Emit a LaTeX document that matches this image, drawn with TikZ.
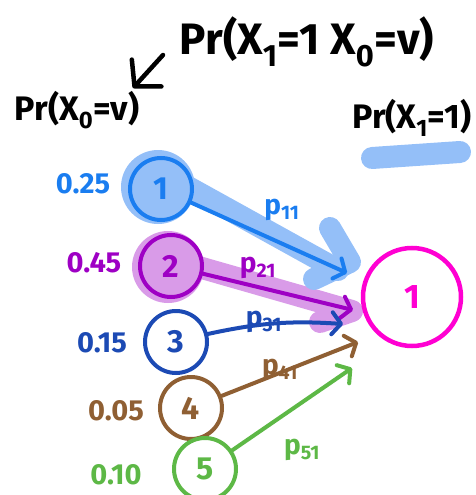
\documentclass[tikz,border=0pt]{standalone}
\usepackage{fontspec}
\setmainfont{Fira Sans}
\usetikzlibrary{arrows.meta}
\definecolor{hblue}{HTML}{1A7DF0}
\definecolor{hblueL}{HTML}{94BFF8}
\definecolor{hpurple}{HTML}{9E00C4}
\definecolor{hpurpleL}{HTML}{D99BE8}
\definecolor{hnavy}{HTML}{1C4AB4}
\definecolor{hbrown}{HTML}{8F5F33}
\definecolor{hgreen}{HTML}{5DB846}
\definecolor{hmagenta}{HTML}{FF00D2}

\tikzset{
  state/.style={circle, draw=#1, text=#1, line width=4pt, minimum size=62pt, inner sep=0pt,
    font=\bfseries\fontsize{32}{32}\selectfont},
  prob/.style={text=#1, font=\bfseries\fontsize{29}{29}\selectfont},
  trans/.style={draw=#1, line width=4pt, line cap=round,
    -{Straight Barb[round,length=9pt,width=22pt]}},
  edgelbl/.style={text=#1, font=\bfseries\fontsize{28}{28}\selectfont},
  glow/.style={draw=#1, line width=22pt, line cap=round, line join=round},
  heading/.style={text=black, font=\bfseries\fontsize{#1}{#1}\selectfont},
}

\begin{document}
\begin{tikzpicture}[x=1pt, y=-1pt]
\useasboundingbox (0,0) rectangle (476,495);

% headings
\node[heading=34] (px0) at (77,110) {Pr(X\textsubscript{0}=v)};
\node[heading=44] (pcond) at (307,42) {Pr(X\textsubscript{1}=1 X\textsubscript{0}=v)};
\node[heading=34] (px1) at (412,118) {Pr(X\textsubscript{1}=1)};
\coordinate (a1) at (163,55);
\coordinate (a0) at (133,88);
\draw[line width=4.5pt, line cap=round, -{Straight Barb[round,length=18pt,width=40pt]}] (a1) -- (a0);

% highlights
\draw[glow=hblueL] (372,158) -- (460,152);
\fill[hpurpleL] (168,267) circle (36);
\draw[glow=hpurpleL] (195,266) -- (352,311) -- (320,322);
\fill[hblueL] (158,187) circle (37);
\draw[glow=hblueL] (188,187) -- (338,270);
\draw[glow=hblueL] (330,228) -- (350,262) -- (314,279);

% states at time 0
\node[state=hblue]   (s1) at (161,189) {1};
\node[state=hpurple] (s2) at (171,266) {2};
\node[state=hnavy]   (s3) at (176,342) {3};
\node[state=hbrown]  (s4) at (191,408) {4};
\node[state=hgreen]  (s5) at (205,469) {5};

\node[prob=hblue]   (v1) at (83,184) {0.25};
\node[prob=hpurple] (v2) at (94,263) {0.45};
\node[prob=hnavy]   (v3) at (102,343) {0.15};
\node[prob=hbrown]  (v4) at (116,411) {0.05};
\node[prob=hgreen]  (v5) at (116,475) {0.10};

% state at time 1
\node[state=hmagenta, minimum size=98pt, line width=4.5pt, font=\bfseries\fontsize{34}{34}\selectfont]
  (t1) at (412,297) {1};

% transitions
\coordinate (e1) at (347,273);
\coordinate (e2) at (353,310);
\coordinate (e3) at (343,324);
\coordinate (e4) at (358,342);
\coordinate (e5) at (352,368);
\draw[trans=hblue]   (s1) -- (e1);
\draw[trans=hpurple] (s2) -- (e2);
\draw[trans=hnavy]   (s3) to[bend left=8] (e3);
\draw[trans=hbrown]  (s4) -- (e4);
\draw[trans=hgreen]  (s5) -- (e5);

\node[edgelbl=hblue]   (l1) at (282,210) {p\textsubscript{11}};
\node[edgelbl=hpurple] (l2) at (258,268) {p\textsubscript{21}};
\node[edgelbl=hnavy]   (l3) at (264,322) {p\textsubscript{31}};
\node[edgelbl=hbrown]  (l4) at (280,370) {p\textsubscript{41}};
\node[edgelbl=hgreen]  (l5) at (302,450) {p\textsubscript{51}};
\end{tikzpicture}
\end{document}
